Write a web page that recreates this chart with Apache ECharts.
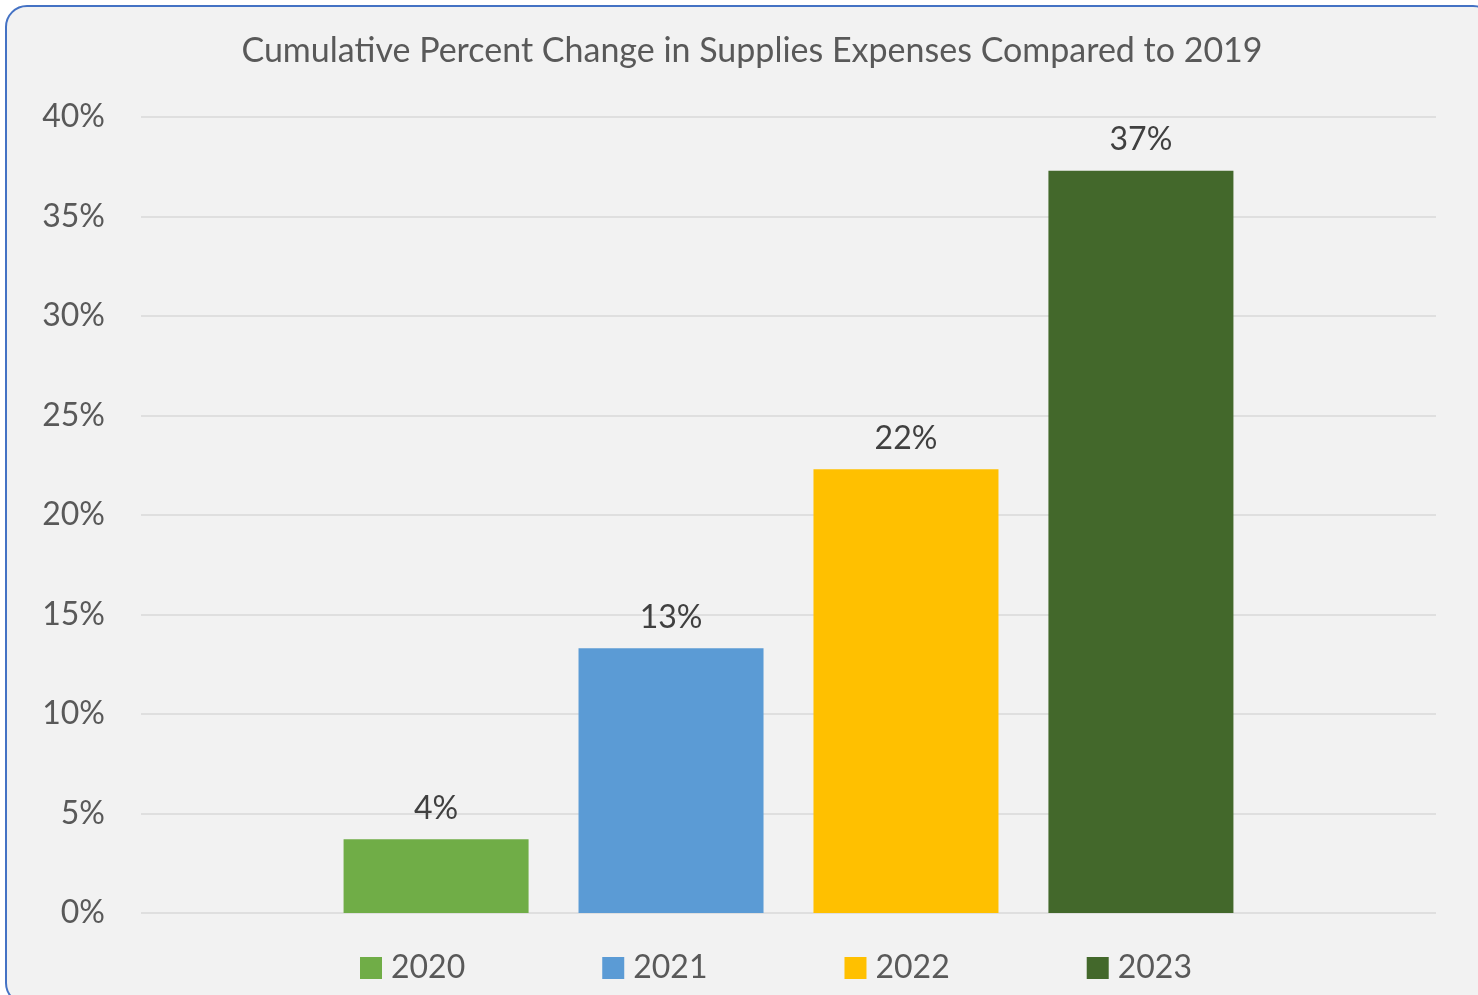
<!DOCTYPE html>
<html>
<head>
<meta charset="utf-8">
<script src="https://cdn.jsdelivr.net/npm/echarts@6/dist/echarts.min.js"></script>
<style>
html,body{margin:0;padding:0;width:1478px;height:995px;overflow:hidden;background:#ffffff;}
#frame{position:absolute;left:5px;top:5px;width:1490px;height:1000px;box-sizing:border-box;border:2px solid #4472c4;border-radius:22px;background:#f2f2f2;overflow:hidden;}
#main{position:absolute;left:0;top:0;width:1478px;height:995px;}
</style>
</head>
<body>
<div id="frame"></div>
<div id="main"></div>
<script>
const TITLE = 'Cumulative Percent Change in Supplies Expenses Compared to 2019';
const SERIES_NAMES = ['2020', '2021', '2022', '2023'];
const VALUES = [3.7, 13.3, 22.3, 37.3];
const COLORS = ['#70ad47', '#5b9bd5', '#ffc000', '#43682b'];
const Y_MIN = 0, Y_MAX = 40, Y_STEP = 5;

const FONT = 'Lato, "Open Sans", sans-serif';
const chart = echarts.init(document.getElementById('main'), null, {renderer: 'canvas'});
const option = {
  backgroundColor: 'transparent',
  animation: false,
  title: {
    text: TITLE,
    left: 747, top: 29, textAlign: 'center',
    textStyle: {fontFamily: FONT, fontSize: 34, fontWeight: 'normal', color: '#595959'}
  },
  legend: {
    data: SERIES_NAMES,
    top: 947, left: 355,
    itemWidth: 22, itemHeight: 22, itemGap: 137,
    icon: 'rect',
    textStyle: {fontFamily: FONT, fontSize: 32, color: '#595959', padding: [0, 0, 0, 4]}
  },
  grid: {left: 141, right: 42, top: 117, bottom: 82, containLabel: false},
  xAxis: {
    type: 'category', data: [''],
    axisLine: {show: false}, axisTick: {show: false}, axisLabel: {show: false}
  },
  yAxis: {
    type: 'value', min: Y_MIN, max: Y_MAX, interval: Y_STEP,
    axisLine: {show: false}, axisTick: {show: false},
    axisLabel: {formatter: '{value}%', margin: 36, fontFamily: FONT, fontSize: 32, color: '#595959', padding: [8, 0, 0, 0]},
    splitLine: {lineStyle: {color: '#d9d9d9', width: 1.5}}
  },
  series: SERIES_NAMES.map((name, i) => ({
    name, type: 'bar', data: [VALUES[i]],
    barWidth: 185, barGap: '27%',
    itemStyle: {color: COLORS[i]},
    label: {
      show: true, position: 'top', distance: 15,
      formatter: p => Math.round(p.value) + '%',
      fontFamily: FONT, fontSize: 32, color: '#404040'
    }
  }))
};
chart.setOption(option);
</script>
</body>
</html>
